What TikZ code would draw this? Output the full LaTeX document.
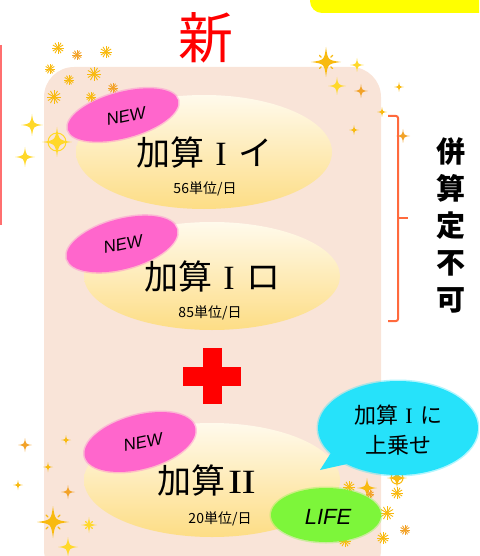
\documentclass[tikz,border=0pt]{standalone}
\usepackage{fontspec}
\setmainfont{Liberation Sans}
\newfontfamily\jp{Noto Sans CJK JP}
\newfontfamily\serf{Liberation Serif}
\usetikzlibrary{shapes.geometric}
\definecolor{peach}{HTML}{F9E4D8}
\definecolor{creamtop}{HTML}{FFFAEC}
\definecolor{creambot}{HTML}{FDDD85}
\definecolor{newpink}{HTML}{FF66CC}
\definecolor{bubcyan}{HTML}{26E2FA}
\definecolor{lifegreen}{HTML}{7DF63A}
\definecolor{brk}{HTML}{FF6A3D}
\definecolor{gold}{HTML}{F8BA10}
\definecolor{orng}{HTML}{F2A228}
\definecolor{lyel}{HTML}{FFD82A}
\definecolor{pluscol}{HTML}{FF0000}
\definecolor{topyel}{HTML}{FFFF00}
\definecolor{leftred}{HTML}{FF6F6F}
\newcommand\rnone{\makebox[1em]{\serf I}}
\newcommand\rntwo{\makebox[1em]{\serf\scalebox{1.25}[1]{I\kern-0.5pt I}}}
\newcommand\spk[4]{\fill[#4,shift={(#1,#2)}] (0,#3) .. controls (0.12*#3,0.12*#3) .. (#3,0) .. controls (0.12*#3,-0.12*#3) .. (0,-#3) .. controls (-0.12*#3,-0.12*#3) .. (-#3,0) .. controls (-0.12*#3,0.12*#3) .. (0,#3) -- cycle;}
\newcommand\astar[4]{\begin{scope}[shift={(#1,#2)}]\foreach \a in {0,30,...,150}{\draw[#4,line width=0.9pt] (\a:#3) -- (\a+180:#3);}\fill[#4] (0,0) circle (0.3*#3);\end{scope}}
\newcommand\rays[4]{\begin{scope}[shift={(#1,#2)}]\foreach \a in {45,135,225,315}{\draw[#4,line width=1.2pt,line cap=round] (\a:0.45*#3) -- (\a:0.62*#3);}\end{scope}\spk{#1}{#2}{#3}{#4}}
\newcommand\ring[4]{\draw[#4,line width=1pt] (#1,#2) circle (0.6*#3);\spk{#1}{#2}{#3}{#4}}
\tikzset{
  yel/.style={ellipse, inner sep=0pt, top color=creamtop, bottom color=creambot, minimum width=256pt},
  soft/.style={draw=#1, fill=#1, draw opacity=0.35, line width=3pt},
  pinkbl/.style={ellipse, inner sep=0pt, soft=newpink, minimum width=114pt, rotate=15},
  newtxt/.style={font=\fontsize{17}{17}\selectfont\itshape, rotate=12, inner sep=0pt, text height=12pt, text depth=0pt},
  bigtxt/.style={font=\jp\fontsize{34}{34}\selectfont, inner sep=0pt, text height=28pt, text depth=3pt},
  smalltxt/.style={font=\jp\fontsize{14}{14}\selectfont, inner sep=0pt, text height=11pt, text depth=1pt},
}
\begin{document}
\begin{tikzpicture}[x=1pt,y=-1pt]
\useasboundingbox (0,0) rectangle (479,556);
\clip (0,0) rectangle (479,556);
% top right yellow box
\fill[topyel, rounded corners=12pt] (310,-30) rectangle (500,13);
% left red line
\draw[leftred, line width=2pt] (1,45) -- (1,225);
% title
\node[font=\jp\fontsize{55}{55}\selectfont, text=pluscol, inner sep=0pt] (title) at (206,38) {新};
% peach panel
\fill[peach, rounded corners=30pt] (44,67) rectangle (381,580);
% sparkles top-left
\astar{58}{48}{6}{gold}
\astar{77}{55}{5}{orng}
\astar{106}{52}{6}{gold}
\astar{50}{69}{5}{gold}
\astar{69}{80}{5}{gold}
\astar{94}{74}{7}{gold}
\astar{54}{97}{7}{gold}
\astar{91}{97}{5}{gold}
\astar{113}{88}{5}{orng}
% top-right
\rays{326}{62}{15}{gold}
\spk{357}{65}{7}{lyel}
\spk{337}{86}{9}{lyel}
\spk{361}{91}{7}{orng}
\spk{399}{87}{5}{gold}
\spk{382}{112}{5}{gold}
\spk{354}{130}{5}{gold}
\spk{403}{136}{7}{orng}
% left
\spk{32}{125}{11}{lyel}
\ring{57}{142}{15}{lyel}
\spk{25}{157}{10}{lyel}
% bottom-left
\spk{25}{445}{7}{orng}
\spk{66}{440}{5}{gold}
\spk{48}{467}{5}{gold}
\spk{18}{485}{5}{gold}
\spk{68}{492}{7}{orng}
\rays{53}{522}{16}{gold}
\rays{89}{525}{8}{lyel}
\spk{68}{547}{10}{lyel}
% ellipse 1
\node[yel, minimum height=114pt] (e1) at (204,152) {};
\node[pinkbl, minimum height=46pt] (p1) at (123,115) {};
\node[newtxt] (n1) at (126,116) {NEW};
\node[bigtxt] (t1) at (204,153) {加算\rnone イ};
\node[smalltxt] (s1) at (205,188) {56単位/日};
% ellipse 2
\node[yel, minimum height=108pt] (e2) at (212,276) {};
\node[pinkbl, minimum height=50pt] (p2) at (122,244) {};
\node[newtxt] (n2) at (123,244) {NEW};
\node[bigtxt] (t2) at (212,277) {加算\rnone ロ};
\node[smalltxt] (s2) at (210,312) {85単位/日};
% plus
\fill[pluscol] (202.5,348) rectangle (221.5,404);
\fill[pluscol] (183,366.5) rectangle (241,385.5);
% ellipse 3
\node[yel, minimum height=114pt] (e3) at (212,480) {};
\node[pinkbl, minimum height=54pt] (p3) at (140,442) {};
\node[newtxt] (n3) at (143,442) {NEW};
\node[bigtxt] (t3) at (208,481) {加算\rntwo};
\node[smalltxt] (s3) at (220,518) {20単位/日};
% bottom-right sparkles
\ring{397}{478}{10}{gold}
\astar{349}{487}{6}{gold}
\spk{367}{488}{10}{gold}
\astar{370}{494}{4}{orng}
\astar{397}{493}{6}{gold}
\astar{387}{513}{7}{gold}
\astar{405}{530}{5}{orng}
\astar{383}{538}{6}{gold}
\astar{345}{541}{6}{gold}
% speech bubble
\fill[bubcyan] (334,448) -- (320,470) -- (356,462) -- cycle;
\node[ellipse, soft=bubcyan, minimum width=160pt, minimum height=94pt, inner sep=0pt] (b) at (398,428) {};
\node[font=\jp\fontsize{22}{30}\selectfont, align=center, inner sep=0pt] (bt) at (398,430) {加算\rnone に\\上乗せ};
% LIFE
\node[ellipse, soft=lifegreen, minimum width=110pt, minimum height=54pt, inner sep=0pt] (g) at (326,515) {};
\node[font=\fontsize{22}{22}\selectfont\itshape, inner sep=0pt] (lt) at (328,517) {LIFE};
% bracket
\draw[brk, line width=2pt, rounded corners=2pt] (388,116) -- (398,116) -- (398,321) -- (388,321);
\draw[brk, line width=2pt] (398,218) -- (408,218);
% vertical text
\node[font=\jp\bfseries\fontsize{29}{37}\selectfont, align=center, inner sep=0pt] (vt) at (451,225) {併\\算\\定\\不\\可};
\end{tikzpicture}
\end{document}
